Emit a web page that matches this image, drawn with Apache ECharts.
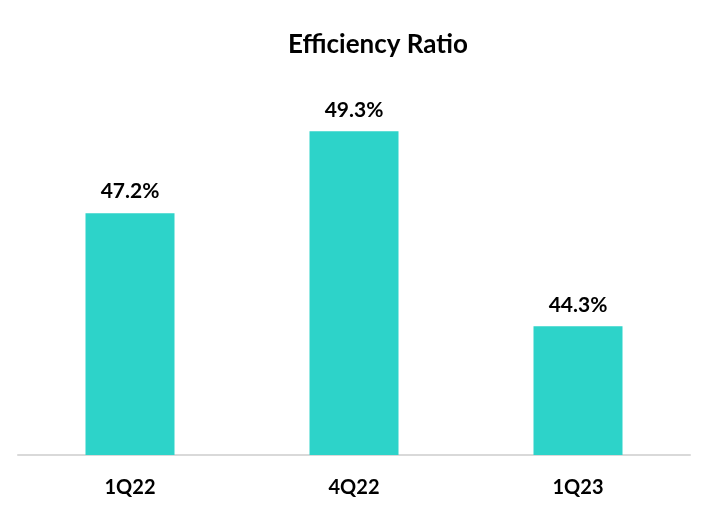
<!DOCTYPE html>
<html><head><meta charset="utf-8">
<script src="https://cdn.jsdelivr.net/npm/echarts@6/dist/echarts.min.js"></script>
<style>html,body{margin:0;padding:0;background:#fff}#c{width:723px;height:532px}</style>
</head><body><div id="c"></div>
<script>
const categories = ['1Q22', '4Q22', '1Q23'];
const values = [47.2, 49.3, 44.3];
const chartTitle = 'Efficiency Ratio';
const FONT = 'Lato';
const chart = echarts.init(document.getElementById('c'));
chart.setOption({
  animation: false,
  title: { text: chartTitle, top: 27, left: 373, textAlign: 'center', textStyle: { fontFamily: FONT, fontWeight: 'bold', fontSize: 26, color: '#000' } },
  grid: { left: 18, right: 33, top: 104, bottom: 77 },
  xAxis: { type: 'category', data: categories,
    axisLine: { lineStyle: { color: '#D9D9D9', width: 2 } }, axisTick: { show: false },
    axisLabel: { margin: 23, fontFamily: FONT, fontWeight: 'bold', fontSize: 20, color: '#000' } },
  yAxis: { type: 'value', min: 41, max: 50, show: false, splitLine: { show: false } },
  series: [{ type: 'bar', data: values, barWidth: 89, itemStyle: { color: '#2DD3C9' },
    label: { show: true, position: 'top', distance: 11, formatter: p => p.value.toFixed(1) + '%', fontFamily: FONT, fontWeight: 'bold', fontSize: 21, color: '#000' } }]
});
</script></body></html>
